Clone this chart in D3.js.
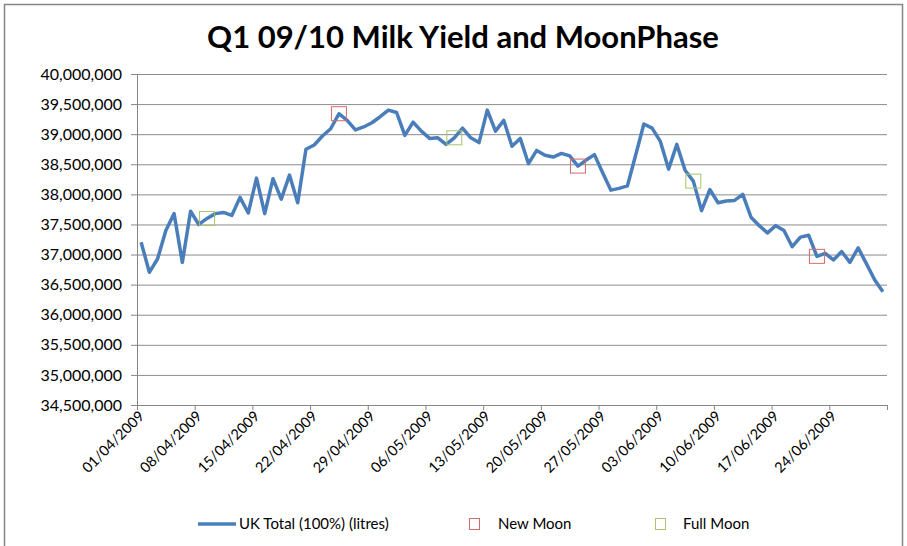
<!DOCTYPE html>
<html>
<head>
<meta charset="utf-8">
<script src="https://cdn.jsdelivr.net/npm/d3@7"></script>
<style>
  html, body { margin: 0; padding: 0; background: #fff; }
  #chart { width: 907px; height: 546px; }
  text { font-family: Lato, 'Open Sans', sans-serif; fill: #000; }
  .title { font-size: 31px; font-weight: bold; }
  .axis text { font-size: 16px; }
  .axis.x text { font-size: 14.5px; }
  .axis path, .axis line { stroke: #868686; }
  .grid line { stroke: #8c8c8c; }
  .grid path { display: none; }
  .legend text { font-size: 15px; }
</style>
</head>
<body>
<div id="chart"></div>
<script>

const title = 'Q1 09/10 Milk Yield and MoonPhase';

// 01/04/2009 .. 30/06/2009, one value a day
const dates = d3.timeDay.range(new Date(2009, 3, 1), new Date(2009, 6, 1));

const tickLabels = [
  '01/04/2009', '08/04/2009', '15/04/2009', '22/04/2009', '29/04/2009',
  '06/05/2009', '13/05/2009', '20/05/2009', '27/05/2009', '03/06/2009',
  '10/06/2009', '17/06/2009', '24/06/2009'
];

const yieldValues = [
  37205000, 36705000, 36930000, 37400000, 37680000, 36870000, 37720000,
  37500000, 37600000, 37680000, 37700000, 37650000, 37950000, 37690000,
  38270000, 37680000, 38260000, 37920000, 38320000, 37860000, 38750000,
  38820000, 38970000, 39090000, 39340000, 39230000, 39070000, 39120000,
  39190000, 39290000, 39400000, 39360000, 38980000, 39200000, 39050000,
  38930000, 38940000, 38830000, 38940000, 39100000, 38940000, 38860000,
  39400000, 39050000, 39230000, 38800000, 38930000, 38510000, 38730000,
  38650000, 38620000, 38680000, 38640000, 38470000, 38570000, 38660000,
  38360000, 38070000, 38100000, 38140000, 38650000, 39170000, 39100000,
  38880000, 38420000, 38830000, 38400000, 38220000, 37730000, 38080000,
  37860000, 37890000, 37900000, 38000000, 37620000, 37480000, 37360000,
  37480000, 37400000, 37130000, 37290000, 37320000, 36970000, 37020000,
  36910000, 37050000, 36870000, 37110000, 36850000, 36580000, 36380000
];

const newMoonDates = ['25/04/2009', '24/05/2009', '22/06/2009'];
const fullMoonDates = ['09/04/2009', '09/05/2009', '07/06/2009'];

const yTicks = d3.range(34500000, 40000001, 500000);

const seriesNames = ['UK Total (100%) (litres)', 'New Moon', 'Full Moon'];


class MoonChart {

  constructor() {

    this._margin = { left: 137, top: 74, right: 20, bottom: 141 };
    this._lineColor = '#4a7ebb';
    this._newColor = '#d46a6a';
    this._fullColor = '#a5c66b';
    this._fmt = d3.timeFormat('%d/%m/%Y');
  }


  /**
   * Render chart.
   * @param {String} selector
   * @returns {MoonChart}
   */
  renderTo(selector) {

    const width = 907, height = 546;
    const margin = this._margin;
    const innerW = width - margin.left - margin.right;
    const innerH = height - margin.top - margin.bottom;

    const svg = d3.select(selector)
      .append('svg')
      .attr('width', width)
      .attr('height', height);

    // chart frame
    svg.append('rect')
      .attr('x', 4.5)
      .attr('y', 4.5)
      .attr('width', 898)
      .attr('height', 600)
      .style('fill', 'none')
      .style('stroke', '#868686')
      .style('stroke-width', 1.5);

    svg.append('text')
      .attr('class', 'title')
      .attr('x', 463)
      .attr('y', 48)
      .attr('text-anchor', 'middle')
      .text(title);

    const g = svg.append('g')
      .attr('transform', 'translate(' + [margin.left, margin.top] + ')');

    const x = d3.scaleBand()
      .domain(dates.map(this._fmt))
      .range([0, innerW]);
    const xMid = d => x(d) + x.bandwidth() / 2;

    // tick marks sit on category boundaries
    const xEdge = d3.scaleLinear()
      .domain([0, dates.length])
      .range([0, innerW]);

    const y = d3.scaleLinear()
      .domain([yTicks[0], yTicks[yTicks.length - 1]])
      .range([innerH, 0]);

    g.append('g')
      .attr('class', 'grid')
      .call(d3.axisLeft(y).tickValues(yTicks).tickSize(-innerW).tickFormat(''));

    g.append('g')
      .attr('class', 'axis y')
      .call(d3.axisLeft(y)
        .tickValues(yTicks)
        .tickSize(6)
        .tickPadding(9)
        .tickFormat(d3.format(',')))
      .call(s => s.select('.domain').attr('d', 'M0.5,0V' + innerH));

    g.append('g')
      .attr('class', 'axis x')
      .attr('transform', 'translate(0,' + innerH + ')')
      .call(d3.axisBottom(xEdge)
        .tickValues(d3.range(0, dates.length + 1, 7))
        .tickSize(5)
        .tickSizeOuter(0)
        .tickFormat(''));

    g.append('g')
      .attr('class', 'axis x labels')
      .selectAll('text')
      .data(tickLabels)
      .enter()
      .append('text')
      .attr('text-anchor', 'end')
      .attr('transform', d => 'translate(' + [xMid(d) + 4, innerH + 12] + ') rotate(-45)')
      .text(d => d);

    const points = dates.map((d, i) => ({ key: this._fmt(d), value: yieldValues[i] }));

    g.append('path')
      .datum(points)
      .attr('d', d3.line().x(d => xMid(d.key)).y(d => y(d.value)))
      .style('fill', 'none')
      .style('stroke', this._lineColor)
      .style('stroke-width', 3.5)
      .style('stroke-linejoin', 'round');

    const lookup = new Map(points.map(p => [p.key, p.value]));
    const markers = [
      { dates: newMoonDates, color: this._newColor },
      { dates: fullMoonDates, color: this._fullColor }
    ];

    markers.forEach(m => {
      g.selectAll(null)
        .data(m.dates)
        .enter()
        .append('rect')
        .attr('x', d => xMid(d) - 7.5)
        .attr('y', d => y(lookup.get(d)) - 7)
        .attr('width', 15)
        .attr('height', 14)
        .style('fill', 'none')
        .style('stroke', m.color)
        .style('stroke-width', 1);
    });

    this._renderLegend(svg);

    return this;
  }


  _renderLegend(svg) {

    const legend = svg.append('g')
      .attr('class', 'legend')
      .attr('transform', 'translate(0,524)');

    legend.append('line')
      .attr('x1', 198).attr('x2', 236)
      .style('stroke', this._lineColor)
      .style('stroke-width', 3.5);

    [{ x: 469.5, color: this._newColor }, { x: 655.5, color: this._fullColor }]
      .forEach(d => {
        legend.append('rect')
          .attr('x', d.x)
          .attr('y', -5.5)
          .attr('width', 10)
          .attr('height', 11)
          .style('fill', 'none')
          .style('stroke', d.color);
      });

    legend.selectAll('text')
      .data(seriesNames)
      .enter()
      .append('text')
      .attr('x', (d, i) => [239, 498, 683][i])
      .attr('dy', '0.35em')
      .text(d => d);
  }
}

new MoonChart().renderTo('#chart');
</script>
</body>
</html>
